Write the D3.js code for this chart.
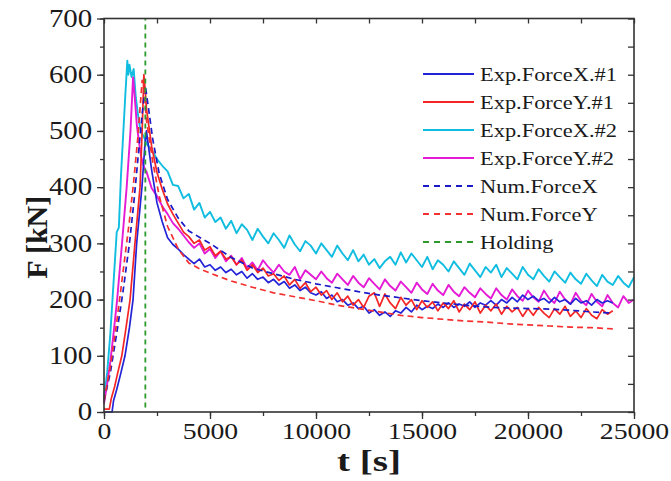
<!DOCTYPE html>
<html>
<head>
<meta charset="utf-8">
<script src="https://cdn.jsdelivr.net/npm/d3@7"></script>
<style>
  body { margin: 0; background: #fff; }
  svg text { font-family: "Liberation Serif", "Times New Roman", serif; fill: #1a1a1a; }
</style>
</head>
<body>
<div id="chart"></div>
<script>
// ---- data ----
const yTicks = [0, 100, 200, 300, 400, 500, 600, 700];
const xTicks = [0, 5000, 10000, 15000, 20000, 25000];
const holdingT = 1950;

// loading phase, [t, F]
const expX1Rise = [[0,0],[380,0],[450,20],[600,40],[800,70],[990,100],[1200,150],[1370,200],[1540,300],[1790,400],[1920,470]];
const expY1Rise = [[0,5],[250,5],[350,25],[500,45],[650,70],[840,100],[1000,140],[1230,200],[1460,300],[1700,400],[1800,500],[1880,600],[1950,570]];
const expX2Rise = [[0,25],[150,70],[300,140],[450,230],[600,320],[700,328],[800,420],[900,490],[1000,560],[1100,625],[1150,600],[1200,618],[1300,596],[1400,610],[1500,560],[1600,530],[1700,505],[1800,495],[1900,488]];
const expY2Rise = [[0,15],[150,50],[300,90],[450,140],[620,200],[850,300],[1070,400],[1250,500],[1370,595],[1450,560],[1550,510],[1650,480],[1750,455],[1850,440],[1950,430]];

// holding phase, sampled every 250 s starting at 2000 s
const decayStart = 2000, decayStep = 250;
const expX1Decay = [500,430,372,338,310,298,290,280,272,
  264,272,258,262,252,258,248,254,
  244,250,238,246,236,240,230,236,
  226,232,220,226,216,222,212,208,
  214,202,208,196,200,190,194,184,
  188,176,182,172,178,170,180,176,
  186,178,190,182,188,184,192,186,
  194,186,192,188,196,186,194,190,
  198,190,200,194,204,196,208,200,
  206,198,202,194,204,196,200,192,
  202,194,198,190,200,194,198,194];
const expY1Decay = [540,472,426,396,370,352,336,320,312,
  300,306,288,294,278,286,272,276,
  262,270,252,262,248,256,242,246,
  234,242,226,236,220,230,214,222,
  208,216,200,212,196,206,190,200,
  186,206,212,188,210,194,184,204,
  190,200,182,198,186,196,180,194,
  184,198,178,192,182,196,176,190,
  180,192,174,188,178,186,170,184,
  172,186,176,168,184,174,188,170,
  180,168,184,172,166,182,174,180];
const expX2Decay = [478,466,450,438,428,404,402,380,388,
  360,372,346,356,338,346,326,340,
  318,334,324,306,326,312,300,318,
  306,292,314,298,286,304,296,282,
  300,288,276,296,282,270,288,268,
  280,262,272,256,268,276,262,284,
  266,282,270,258,276,254,270,262,
  250,268,256,244,264,252,240,258,
  248,262,240,256,246,236,258,244,
  236,254,242,232,250,240,230,248,
  236,228,246,234,224,244,232,226,
  242,230,222,240];
const expY2Decay = [428,398,384,366,352,336,326,314,302,
  292,300,282,290,274,286,268,278,
  262,274,256,266,252,270,258,248,
  262,250,244,258,236,252,244,236,
  250,238,230,246,236,226,242,230,
  222,238,228,218,236,224,216,232,
  222,212,230,218,210,228,216,208,
  226,214,206,222,212,204,220,210,
  202,220,208,200,218,206,198,216,
  204,196,216,202,194,214,200,192,
  212,198,190,210,196,188,208,194,
  186,206,194,200];

// simulations, [t, F]
const numX = [[0,20],[300,70],[600,140],[900,215],[1200,300],[1400,370],[1600,450],[1800,530],[1950,580],[2100,540],[2300,485],[2600,425],[3000,378],[3500,345],[4000,322],[5000,300],[6000,275],[7000,256],[8000,246],[9000,236],[10000,228],[11000,221],[12000,214],[13000,208],[14000,203],[15000,198],[16000,194],[17000,190],[18000,187],[19000,185],[20000,184],[21000,183],[22000,181],[23000,178],[24000,176]];
const numY = [[0,20],[300,80],[600,160],[900,250],[1200,340],[1400,410],[1600,490],[1800,590],[1900,570],[2000,520],[2300,445],[2600,385],[3000,330],[3500,290],[4000,265],[4500,255],[5000,247],[6000,233],[7000,222],[8000,212],[9000,205],[10000,198],[11000,190],[12000,184],[13000,178],[14000,172],[15000,168],[16000,165],[17000,162],[18000,160],[19000,157],[20000,155],[21000,153],[22000,151],[23000,150],[24000,148]];

function joinDecay(rise, decay) {
  return rise.concat(decay.map((v, i) => [decayStart + i * decayStep, v]));
}

const series = [
  { name: 'Exp.ForceX.#1', color: '#2323d8', dash: null, width: 1.7, data: joinDecay(expX1Rise, expX1Decay) },
  { name: 'Exp.ForceY.#1', color: '#f52525', dash: null, width: 1.7, data: joinDecay(expY1Rise, expY1Decay) },
  { name: 'Exp.ForceX.#2', color: '#10bde0', dash: null, width: 1.9, data: joinDecay(expX2Rise, expX2Decay) },
  { name: 'Exp.ForceY.#2', color: '#e41ad6', dash: null, width: 1.9, data: joinDecay(expY2Rise, expY2Decay) },
  { name: 'Num.ForceX', color: '#1a1ac8', dash: '6,4', width: 1.7, data: numX },
  { name: 'Num.ForceY', color: '#f53030', dash: '6,4', width: 1.7, data: numY },
  { name: 'Holding', color: '#2e9a2e', dash: '5,4', width: 1.8, data: [[holdingT, 8], [holdingT, 700]] }
];

// ---- chart ----
const W = 671, H = 481;
const margin = { top: 18.5, right: 37, bottom: 69, left: 104 };
const width = W - margin.left - margin.right;
const height = H - margin.top - margin.bottom;
const stretch = 'scale(1.18,1)';

const svg = d3.select('#chart').append('svg')
  .attr('width', W).attr('height', H)
  .append('g')
  .attr('transform', 'translate(' + margin.left + ',' + margin.top + ')');

const x = d3.scaleLinear().domain([0, 25000]).range([0, width]);
const y = d3.scaleLinear().domain([0, 700]).range([height, 0]);

const line = d3.line().x(d => x(d[0])).y(d => y(d[1]));

// series lines (experiment #1 and simulations end up on top)
const drawOrder = [2, 3, 0, 1, 4, 5, 6];
svg.append('g').selectAll('path')
  .data(drawOrder.map(i => series[i]))
  .enter().append('path')
  .attr('d', d => line(d.data))
  .attr('fill', 'none')
  .attr('stroke', d => d.color)
  .attr('stroke-width', d => d.width)
  .attr('stroke-dasharray', d => d.dash)
  .attr('stroke-linejoin', 'round');

// axes
const minorY = d3.range(0, 701, 50);
const minorX = d3.range(0, 25001, 2500);

function styleAxis(size) {
  return g => {
    g.select('.domain').remove();
    g.selectAll('line').attr('stroke', '#333').attr('stroke-width', 1.3);
    g.selectAll('text').style('font-size', size).attr('transform', stretch);
  };
}

svg.append('g')
  .call(d3.axisLeft(y).tickValues(minorY).tickSize(4).tickFormat(''))
  .call(styleAxis('24px'));
svg.append('g')
  .call(d3.axisLeft(y).tickValues(yTicks).tickSize(7).tickPadding(3).tickFormat(d3.format('d')))
  .call(styleAxis('24.5px'));

svg.append('g')
  .attr('transform', 'translate(0,' + height + ')')
  .call(d3.axisBottom(x).tickValues(minorX).tickSize(4).tickFormat(''))
  .call(styleAxis('24px'));
svg.append('g')
  .attr('transform', 'translate(0,' + height + ')')
  .call(d3.axisBottom(x).tickValues(xTicks).tickSize(7).tickPadding(3).tickFormat(d3.format('d')))
  .call(styleAxis('23.5px'));

// mirrored ticks on top and right, pointing inward
svg.append('g')
  .call(d3.axisBottom(x).tickValues(minorX).tickSize(5).tickFormat(''))
  .call(styleAxis('24px'));
svg.append('g')
  .attr('transform', 'translate(' + width + ',0)')
  .call(d3.axisLeft(y).tickValues(minorY).tickSize(6).tickFormat(''))
  .call(styleAxis('24px'));

// frame
svg.append('rect')
  .attr('width', width).attr('height', height)
  .attr('fill', 'none').attr('stroke', '#333').attr('stroke-width', 1.6);

// axis titles
svg.append('text')
  .text('t [s]')
  .attr('transform', 'translate(' + (width / 2) + ',' + (height + 59) + ') scale(1.35,1)')
  .attr('text-anchor', 'middle')
  .style('font-size', '29px').style('font-weight', 'bold');

svg.append('text')
  .text('F [kN]')
  .attr('transform', 'translate(' + (-57) + ',' + (height / 2 + 22) + ') rotate(-90)')
  .attr('text-anchor', 'middle')
  .style('font-size', '30px').style('font-weight', 'bold');

// legend
const legend = svg.append('g').attr('transform', 'translate(319,55.5)');
const rows = legend.selectAll('g')
  .data(series)
  .enter().append('g')
  .attr('transform', (d, i) => 'translate(0,' + (i * 28) + ')');
rows.append('line')
  .attr('x1', 0).attr('x2', 51)
  .attr('stroke', d => d.color)
  .attr('stroke-width', 2)
  .attr('stroke-dasharray', d => d.dash ? '6,5' : null);
rows.append('text')
  .text(d => d.name)
  .attr('transform', 'translate(57,0) ' + stretch)
  .attr('dy', '0.35em')
  .style('font-size', '19px');
</script>
</body>
</html>
